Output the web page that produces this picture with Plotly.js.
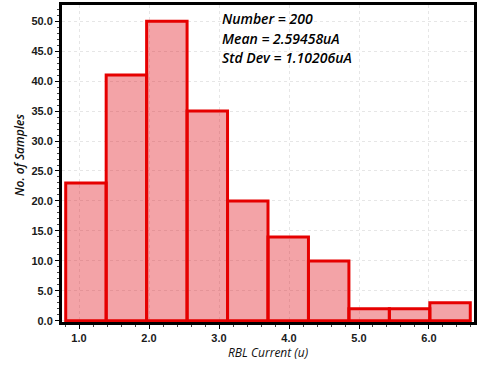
<!DOCTYPE html>
<html>
<head>
<meta charset="utf-8">
<script src="https://cdn.plot.ly/plotly-3.0.1.min.js"></script>
<style>html,body{margin:0;padding:0;background:#fff;}#chart{width:479px;height:366px;}</style>
</head>
<body>
<div id="chart"></div>
<script>
// Histogram data
const binStart = 0.81;
const binWidth = 0.578;
const counts = [23, 41, 50, 35, 20, 14, 10, 2, 2, 3];
const statLines = ["Number = 200", "Mean = 2.59458uA", "Std Dev = 1.10206uA"];
const xTickVals = [1, 2, 3, 4, 5, 6];
const xTickText = ["1.0", "2.0", "3.0", "4.0", "5.0", "6.0"];
const yTickVals = [0, 5, 10, 15, 20, 25, 30, 35, 40, 45, 50];
const yTickText = ["0.0", "5.0", "10.0", "15.0", "20.0", "25.0", "30.0", "35.0", "40.0", "45.0", "50.0"];
const xTitle = "RBL Current (u)";
const yTitle = "No. of Samples";

const centers = counts.map((c, i) => binStart + binWidth * (i + 0.5));

const trace = {
  type: 'bar',
  x: centers,
  y: counts,
  width: counts.map(() => binWidth),
  marker: {
    color: 'rgba(225,25,35,0.4)',
    line: {color: 'rgb(230,0,0)', width: 3}
  },
  hoverinfo: 'none'
};

const tickFont = {family: 'Liberation Sans, Arial, sans-serif', size: 11, color: '#1a1a1a', weight: 'bold'};

const annotations = statLines.map((t, i) => ({
  xref: 'paper', yref: 'paper',
  x: 0.383, y: 1 - (13.5 + i * 19.5) / 317,
  xanchor: 'left', yanchor: 'middle',
  text: t, showarrow: false,
  font: {family: 'Open Sans, sans-serif', size: 14, color: '#000', style: 'italic', weight: 600}
}));
annotations.push({
  xref: 'paper', yref: 'paper', x: 0.5, y: -0.097,
  xanchor: 'center', yanchor: 'middle', text: xTitle, showarrow: false,
  font: {family: 'Open Sans, sans-serif', size: 12, color: '#111', style: 'italic'}
});
annotations.push({
  xref: 'paper', yref: 'paper', x: -0.103, y: 0.528,
  xanchor: 'center', yanchor: 'middle', text: yTitle, showarrow: false, textangle: -90,
  font: {family: 'Open Sans, sans-serif', size: 12, color: '#111', style: 'italic', weight: 600}
});

const layout = {
  width: 479, height: 366,
  margin: {l: 62, r: 5, t: 5, b: 44},
  paper_bgcolor: '#fff', plot_bgcolor: '#fff',
  showlegend: false,
  bargap: 0,
  xaxis: {
    range: [0.757, 6.643],
    tickvals: xTickVals, ticktext: xTickText,
    tickfont: tickFont,
    showline: true, linewidth: 3, linecolor: '#000', mirror: true,
    ticks: 'outside', ticklen: 4, tickwidth: 1, tickcolor: '#000',
    showgrid: true, gridcolor: '#e6e6e6', gridwidth: 1, griddash: 'dot',
    minor: {dtick: 0.2, tick0: 0, ticks: 'outside', ticklen: 2, tickcolor: '#444', showgrid: false},
    zeroline: false, fixedrange: true
  },
  yaxis: {
    range: [-0.2, 52.7],
    tickvals: yTickVals, ticktext: yTickText,
    tickfont: tickFont,
    showline: true, linewidth: 3, linecolor: '#000', mirror: true,
    ticks: 'outside', ticklen: 4, tickwidth: 1, tickcolor: '#000',
    showgrid: true, gridcolor: '#e6e6e6', gridwidth: 1, griddash: 'dot',
    minor: {dtick: 1, tick0: 0, ticks: 'outside', ticklen: 2, tickcolor: '#444', showgrid: false},
    zeroline: false, fixedrange: true
  },
  annotations: annotations
};

Plotly.newPlot('chart', [trace], layout, {displayModeBar: false, staticPlot: true});
</script>
</body>
</html>
